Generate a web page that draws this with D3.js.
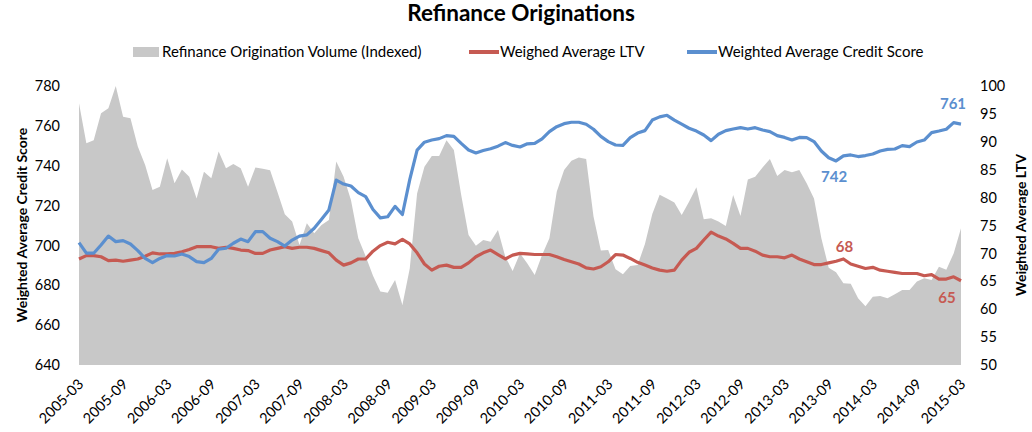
<!DOCTYPE html>
<html>
<head>
<meta charset="utf-8">
<script src="https://cdn.jsdelivr.net/npm/d3@7"></script>
<style>
  body { margin: 0; background: #fff; }
  text { font-family: Lato, "Open Sans", sans-serif; }
</style>
</head>
<body>
<svg id="chart" width="1032" height="432"></svg>
<script>
// monthly categories, 2005-03 .. 2015-03
const months = d3.utcMonth.range(new Date(Date.UTC(2005, 2, 1)), new Date(Date.UTC(2015, 3, 1)));
const tickLabels = ["2005-03","2005-09","2006-03","2006-09","2007-03","2007-09","2008-03","2008-09",
  "2009-03","2009-09","2010-03","2010-09","2011-03","2011-09","2012-03","2012-09","2013-03",
  "2013-09","2014-03","2014-09","2015-03"];

// refinance origination volume (indexed, 0-100)
const volume = [93.8,79.5,80.6,90.2,92.0,100.0,89.0,88.4,78.3,71.7,62.7,63.9,74.1,65.1,70.1,67.5,59.7,69.3,66.9,76.5,
  70.5,72.0,70.5,63.9,70.8,70.3,69.8,62.0,54.0,51.4,43.0,50.8,47.2,50.2,52.0,72.9,67.5,59.1,45.4,39.0,
  32.0,26.3,25.9,30.5,21.5,34.6,61.5,71.1,74.9,74.9,80.6,77.1,60.9,46.6,42.7,44.8,44.2,48.4,38.8,33.7,
  40.0,36.4,32.3,39.4,45.4,62.1,69.9,73.2,74.4,73.8,53.2,41.0,41.2,34.3,32.5,35.5,35.8,43.4,54.1,61.0,
  59.7,58.2,53.8,58.5,63.7,52.2,52.6,51.4,49.8,60.9,53.4,66.5,67.5,70.8,73.8,67.7,69.9,69.1,69.9,65.1,
  59.7,45.4,34.9,33.2,29.3,29.1,23.9,21.1,24.5,24.7,23.9,25.4,26.9,26.9,29.9,31.1,30.5,35.2,34.1,40.0,
  49.0];

// weighed average LTV (right axis)
const ltv = [69.0,69.6,69.6,69.4,68.7,68.8,68.6,68.8,69.0,69.5,70.1,69.9,69.9,70.0,70.3,70.7,71.2,71.2,71.2,70.9,
  71.1,70.9,70.6,70.5,70.0,70.0,70.6,70.9,71.2,70.9,71.1,71.1,70.9,70.5,70.1,68.8,67.9,68.3,69.0,69.0,
  70.4,71.4,72.0,71.7,72.5,71.7,70.1,68.1,67.0,67.7,67.9,67.5,67.5,68.3,69.4,70.1,70.6,69.8,69.0,69.7,
  70.0,69.9,69.8,69.8,69.8,69.4,68.9,68.5,68.1,67.4,67.2,67.6,68.5,69.8,69.7,69.1,68.4,67.9,67.4,67.0,
  66.8,67.0,68.8,70.2,70.9,72.4,73.8,73.1,72.6,71.8,70.9,70.9,70.4,69.7,69.4,69.4,69.2,69.7,69.0,68.5,
  68.0,68.0,68.3,68.6,69.0,68.1,67.7,67.3,67.5,67.0,66.8,66.6,66.4,66.4,66.4,66.0,66.2,65.4,65.4,65.8,
  65.1];

// weighted average credit score (left axis)
const score = [701.4,696.1,696.1,700.2,704.7,701.9,702.4,700.7,697.4,693.5,691.4,693.5,694.9,694.7,695.7,694.4,691.9,691.4,693.5,698.1,
  698.6,701.1,703.2,701.9,706.9,706.9,703.6,701.9,699.7,702.7,704.7,705.3,708.6,713.1,717.8,732.8,730.8,729.8,726.5,724.5,
  718.0,713.8,714.4,719.6,715.5,733.0,747.8,751.8,752.9,753.6,755.1,754.7,751.2,747.9,746.4,747.6,748.5,749.8,751.6,750.2,
  749.4,751.0,751.2,753.5,757.1,759.6,761.1,761.8,761.8,760.8,758.3,754.7,752.1,750.4,750.2,754.1,756.4,757.6,762.9,764.5,
  765.3,762.9,760.9,758.8,757.4,755.4,752.6,755.8,757.6,758.4,759.1,758.4,759.1,757.9,757.1,755.1,754.2,752.9,754.2,754.1,
  752.1,747.4,744.0,742.4,744.9,745.4,744.6,745.1,745.9,747.4,748.2,748.4,750.1,749.6,751.9,752.9,756.6,757.4,758.3,761.6,
  760.9];

const scoreTicks = [640, 660, 680, 700, 720, 740, 760, 780];
const ltvTicks = [50, 55, 60, 65, 70, 75, 80, 85, 90, 95, 100];

const GRAY = "#c8c8c8", RED = "#c65a52", BLUE = "#5b8fcf";
const fmt = d3.utcFormat("%Y-%m");

const svg = d3.select("#chart");

const x = d3.scaleLinear().domain([0, months.length - 1]).range([79, 961]);
const yScore = d3.scaleLinear().domain([640, 780]).range([365, 86]);
const yLtv = d3.scaleLinear().domain([50, 100]).range([365, 86]);
const yVol = d3.scaleLinear().domain([0, 100]).range([365, 86]);

// volume area
svg.append("path")
  .datum(volume)
  .attr("fill", GRAY)
  .attr("d", d3.area().x((d, i) => x(i)).y0(yVol(0)).y1(d => yVol(d)));

// lines
svg.append("path")
  .datum(ltv)
  .attr("fill", "none")
  .attr("stroke", RED)
  .attr("stroke-width", 3.2)
  .attr("stroke-linejoin", "round")
  .attr("d", d3.line().x((d, i) => x(i)).y(d => yLtv(d)));

svg.append("path")
  .datum(score)
  .attr("fill", "none")
  .attr("stroke", BLUE)
  .attr("stroke-width", 3.2)
  .attr("stroke-linejoin", "round")
  .attr("d", d3.line().x((d, i) => x(i)).y(d => yScore(d)));

// axes
const left = svg.append("g")
  .attr("transform", "translate(79,0)")
  .call(d3.axisLeft(yScore).tickValues(scoreTicks).tickSize(0).tickPadding(19));
const right = svg.append("g")
  .attr("transform", "translate(961,0)")
  .call(d3.axisRight(yLtv).tickValues(ltvTicks).tickSize(0).tickPadding(19));

const tickIdx = tickLabels.map(l => months.findIndex(m => fmt(m) === l));
const bottom = svg.append("g")
  .attr("transform", "translate(0,365)")
  .call(d3.axisBottom(x).tickValues(tickIdx).tickFormat((d, i) => tickLabels[i]).tickSize(0));

[left, right, bottom].forEach(g => {
  g.select(".domain").remove();
  g.selectAll("text").attr("font-size", 14.5).attr("fill", "#000")
    .style("font-family", "Lato, 'Open Sans', sans-serif");
});
bottom.selectAll("text")
  .attr("y", 0).attr("dy", 0)
  .attr("text-anchor", "end")
  .attr("transform", "translate(5,20) rotate(-45)");

// axis titles
svg.append("text")
  .attr("transform", "translate(27,225) rotate(-90)")
  .attr("text-anchor", "middle")
  .attr("font-size", 14).attr("font-weight", "bold")
  .text("Weighted Average Credit Score");
svg.append("text")
  .attr("transform", "translate(1026,225) rotate(-90)")
  .attr("text-anchor", "middle")
  .attr("font-size", 14).attr("font-weight", "bold")
  .text("Weighted Average LTV");

// title
svg.append("text")
  .attr("x", 521).attr("y", 21)
  .attr("text-anchor", "middle")
  .attr("font-size", 22.5).attr("font-weight", "bold")
  .text("Refinance Originations");

// legend
const legend = svg.append("g").attr("font-size", 15);
legend.append("rect").attr("x", 133).attr("y", 47).attr("width", 26).attr("height", 10).attr("fill", GRAY);
legend.append("text").attr("x", 162).attr("y", 57).text("Refinance Origination Volume (Indexed)");
legend.append("line").attr("x1", 469).attr("x2", 499).attr("y1", 52).attr("y2", 52)
  .attr("stroke", RED).attr("stroke-width", 4);
legend.append("text").attr("x", 500).attr("y", 57).text("Weighed Average LTV");
legend.append("line").attr("x1", 687).attr("x2", 717).attr("y1", 52).attr("y2", 52)
  .attr("stroke", BLUE).attr("stroke-width", 4);
legend.append("text").attr("x", 718).attr("y", 57).text("Weighted Average Credit Score");

// data labels
const minIdx = d3.minIndex(score.slice(90)) + 90;
const last = months.length - 1;
const labels = [
  { i: minIdx, y: yScore(score[minIdx]), text: "742", color: BLUE, dx: -2, dy: 21 },
  { i: last, y: yScore(score[last]), text: "761", color: BLUE, dx: -8, dy: -15 },
  { i: 104, y: yLtv(ltv[104]), text: "68", color: RED, dx: 1, dy: -7 },
  { i: last, y: yLtv(ltv[last]), text: "65", color: RED, dx: -14, dy: 22 }
];
svg.append("g").selectAll("text")
  .data(labels)
  .join("text")
  .attr("x", d => x(d.i) + d.dx)
  .attr("y", d => d.y + d.dy)
  .attr("text-anchor", "middle")
  .attr("font-size", 15).attr("font-weight", "bold")
  .attr("fill", d => d.color)
  .text(d => d.text);
</script>
</body>
</html>
